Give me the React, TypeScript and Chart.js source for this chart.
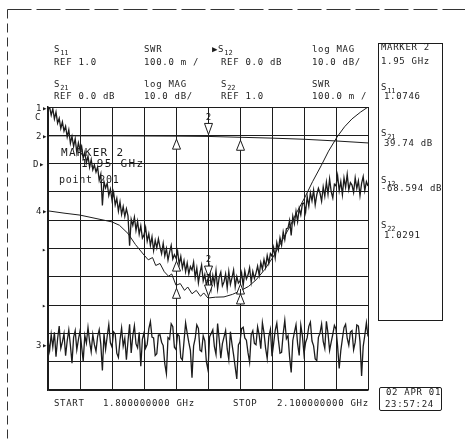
import React, { useEffect, useRef } from "react";
import { Chart, registerables } from "chart.js";
Chart.register(...registerables);

// Sweep definition (MHz)
const START_MHZ = 1800;
const STOP_MHZ = 2100;
const SWEEP_POINTS = 201;

// S21 log MAG (dB), one value per sweep point
const S21_DB = [
  8.9, 10.0, 7.1, 9.4, 5.8, 8.2, 4.3, 6.0, 2.4, 4.7,
  1.5, 3.2, -0.6, 1.9, -2.8, -0.4, -3.9, -1.2, -6.1, -2.7,
  -5.2, -3.8, -8.1, -6.0, -9.7, -7.4, -11.3, -8.6, -12.2, -10.5,
  -13.0, -11.2, -15.9, -13.7, -24.8, -16.4, -18.6, -16.9, -21.3, -19.0,
  -22.9, -20.1, -24.6, -22.3, -26.8, -23.5, -27.9, -25.2, -28.7, -26.0,
  -28.5, -39.0, -29.7, -31.8, -28.9, -33.6, -30.4, -34.9, -32.0, -36.3,
  -35.2, -32.6, -37.4, -34.8, -38.9, -35.9, -40.7, -37.1, -39.8, -36.6,
  -39.5, -41.8, -38.2, -42.6, -40.0, -44.1, -41.3, -38.9, -43.7, -42.2,
  -43.4, -40.9, -45.6, -42.8, -46.9, -44.3, -48.2, -45.1, -49.0, -46.4,
  -47.6, -44.8, -50.3, -46.9, -52.1, -48.5, -45.9, -51.4, -49.2, -53.0,
  -50.8, -46.7, -53.9, -49.5, -52.6, -47.8, -54.3, -50.1, -48.3, -53.2,
  -51.8, -49.0, -54.0, -48.2, -52.7, -50.3, -47.6, -53.5, -49.9, -52.2,
  -51.5, -48.6, -53.1, -47.9, -50.8, -49.4, -46.8, -51.9, -48.1, -50.6,
  -48.7, -46.2, -49.5, -45.0, -47.3, -43.9, -46.6, -42.5, -45.2, -41.8,
  -42.7, -39.6, -43.3, -37.9, -40.5, -36.2, -38.8, -34.1, -36.9, -33.0,
  -32.8, -30.1, -35.4, -28.6, -31.2, -26.9, -30.5, -25.8, -28.1, -24.2,
  -23.9, -27.2, -21.6, -25.0, -20.3, -23.1, -19.4, -24.6, -21.0, -18.7,
  -20.4, -23.3, -18.2, -21.5, -16.6, -20.8, -15.4, -19.9, -22.1, -17.3,
  -17.9, -14.2, -19.6, -16.3, -21.0, -15.1, -18.4, -13.8, -19.2, -16.7,
  -17.6, -20.2, -15.0, -18.8, -16.1, -21.3, -17.0, -14.6, -19.5, -16.4,
  -17.9,
];

// S12 log MAG (dB), one value per sweep point
const S12_DB = [
  -72.5, -76.1, -70.3, -74.8, -69.6, -78.2, -71.9, -67.4, -75.3, -73.0,
  -70.1, -77.9, -72.6, -68.8, -74.2, -80.5, -71.4, -69.0, -75.8, -72.2,
  -69.2, -74.6, -79.8, -70.7, -73.4, -67.9, -72.9, -76.5, -70.4, -74.0,
  -76.3, -71.1, -68.7, -73.8, -83.1, -70.2, -75.6, -71.0, -66.9, -73.3,
  -74.8, -69.5, -70.2, -77.0, -78.5, -72.4, -68.1, -74.5, -71.7, -79.3,
  -72.7, -66.8, -76.9, -70.9, -67.3, -73.7, -75.1, -69.6, -81.6, -72.0,
  -69.8, -75.2, -73.9, -68.4, -65.8, -71.3, -71.6, -77.8, -77.2, -70.6,
  -70.5, -73.1, -74.3, -80.8, -84.2, -71.5, -72.1, -66.6, -67.6, -74.9,
  -75.7, -70.3, -70.9, -78.6, -79.4, -72.8, -66.3, -69.9, -73.2, -76.0,
  -85.7, -74.4, -71.8, -67.0, -68.2, -75.9, -76.4, -70.8, -72.6, -80.1,
  -82.9, -71.2, -70.0, -68.7, -74.7, -77.4, -66.5, -72.1, -78.8, -73.6,
  -71.3, -69.0, -75.5, -79.2, -69.4, -73.8, -77.6, -81.9, -86.1, -74.1,
  -73.0, -68.3, -67.8, -71.6, -72.4, -76.8, -80.2, -70.5, -69.1, -73.5,
  -74.0, -67.7, -70.6, -75.4, -66.2, -69.8, -75.2, -78.9, -71.2, -68.6,
  -78.1, -73.7, -68.9, -66.4, -72.3, -77.0, -76.7, -70.1, -65.4, -71.9,
  -70.8, -78.4, -83.8, -72.5, -69.6, -66.9, -73.6, -77.8, -67.1, -70.9,
  -77.3, -73.2, -71.5, -67.5, -66.0, -72.7, -74.4, -79.0, -79.6, -71.4,
  -69.9, -66.7, -72.8, -75.3, -65.7, -70.0, -76.0, -73.1, -70.3, -67.2,
  -68.4, -74.5, -82.4, -76.1, -71.9, -68.0, -66.8, -71.7, -74.2, -69.5,
  -69.0, -75.8, -73.1, -67.0, -67.4, -72.9, -85.0, -74.6, -70.7, -66.3,
  -71.1,
];

// S11 SWR
const S11_FREQ = [1800, 1860, 1920, 1950, 1980, 2010, 2040, 2070, 2100];
const S11_SWR = [1.898, 1.898, 1.897, 1.896, 1.893, 1.89, 1.886, 1.88, 1.873];

// S22 SWR
const S22_FREQ = [
  1800, 1815, 1830, 1845, 1860, 1867, 1875, 1882, 1890, 1894, 1898, 1901, 1905,
  1909, 1913, 1916, 1920, 1924, 1928, 1931, 1935, 1939, 1943, 1946, 1950, 1957,
  1965, 1973, 1980, 1988, 1995, 2003, 2011, 2018, 2026, 2033, 2041, 2048, 2056,
  2063, 2071, 2078, 2085, 2093, 2100,
];
const S22_SWR = [
  1.633, 1.625, 1.618, 1.606, 1.594, 1.582, 1.553, 1.514, 1.477, 1.46, 1.468,
  1.44, 1.447, 1.418, 1.402, 1.41, 1.37, 1.376, 1.352, 1.364, 1.34, 1.352,
  1.331, 1.343, 1.325, 1.328, 1.329, 1.338, 1.35, 1.366, 1.389, 1.425, 1.47,
  1.518, 1.572, 1.626, 1.682, 1.736, 1.792, 1.844, 1.894, 1.93, 1.958, 1.982,
  2.0,
];

// Markers
const MARKER_FREQ = [1920, 1950, 1980];
const MARKER_LABEL = ["1", "2", "3"];
const ACTIVE_MARKER = "2";

const INK = "#1c1c1c";
const MONO = "'DejaVu Sans Mono', 'Liberation Mono', monospace";

function sweepFreqs(n: number) {
  const out: number[] = [];
  for (let i = 0; i < n; i++) out.push(START_MHZ + ((STOP_MHZ - START_MHZ) * i) / (n - 1));
  return out;
}

function valueAt(freqs: number[], vals: number[], f: number) {
  for (let i = 0; i < freqs.length - 1; i++) {
    if (f >= freqs[i] && f <= freqs[i + 1]) {
      const t = (f - freqs[i]) / (freqs[i + 1] - freqs[i] || 1);
      return vals[i] + t * (vals[i + 1] - vals[i]);
    }
  }
  return vals[vals.length - 1];
}

function pts(freqs: number[], vals: number[]) {
  return vals.map((v, i) => ({ x: freqs[i], y: v }));
}

const T = ({ x, y, size = 9, ls = 0.7, children }: any) => (
  <div
    style={{
      position: "absolute",
      left: x,
      top: y - size / 2,
      fontSize: size,
      lineHeight: `${size}px`,
      letterSpacing: ls,
      fontFamily: MONO,
      color: INK,
      whiteSpace: "pre",
    }}
  >
    {children}
  </div>
);

const Sub = ({ children }: any) => (
  <span style={{ fontSize: 7, position: "relative", top: 3, letterSpacing: 0 }}>{children}</span>
);

export default function App() {
  const ref = useRef<HTMLCanvasElement>(null);
  useEffect(() => {
    const sweep = sweepFreqs(SWEEP_POINTS);
    const traces = [
      { f: S11_FREQ, v: S11_SWR, axis: "ySwr" },
      { f: sweep, v: S21_DB, axis: "y" },
      { f: S22_FREQ, v: S22_SWR, axis: "ySwr" },
    ];
    const decor = {
      id: "decor",
      afterDatasetsDraw(chart: any) {
        const ctx = chart.ctx;
        const xs = chart.scales.x;
        ctx.save();
        ctx.strokeStyle = INK;
        ctx.fillStyle = "#fff";
        ctx.lineWidth = 1;
        traces.forEach((tr) => {
          const ys = chart.scales[tr.axis];
          MARKER_FREQ.forEach((mf, k) => {
            const px = Math.round(xs.getPixelForValue(mf)) + 0.5;
            const py = ys.getPixelForValue(valueAt(tr.f, tr.v, mf));
            const lab = MARKER_LABEL[k];
            ctx.beginPath();
            if (lab === ACTIVE_MARKER) {
              ctx.moveTo(px, py - 24);
              ctx.lineTo(px, py + 2);
              ctx.stroke();
              ctx.beginPath();
              ctx.moveTo(px - 4, py - 13);
              ctx.lineTo(px + 4, py - 13);
              ctx.lineTo(px, py - 2);
              ctx.closePath();
              ctx.fill();
              ctx.stroke();
              ctx.fillStyle = INK;
              ctx.font = `9px ${MONO}`;
              ctx.textAlign = "center";
              ctx.textBaseline = "middle";
              ctx.fillText(lab, px, py - 19);
              ctx.fillStyle = "#fff";
            } else {
              ctx.moveTo(px, py - 2);
              ctx.lineTo(px, py + 18);
              ctx.stroke();
              ctx.beginPath();
              ctx.moveTo(px, py + 3);
              ctx.lineTo(px + 4, py + 13);
              ctx.lineTo(px - 4, py + 13);
              ctx.closePath();
              ctx.fill();
              ctx.stroke();
            }
          });
        });
        ctx.restore();
      },
      afterDraw(chart: any) {
        const ctx = chart.ctx;
        ctx.save();
        ctx.strokeStyle = "#333";
        ctx.lineWidth = 1;
        ctx.setLineDash([24, 5]);
        ctx.beginPath();
        ctx.moveTo(7.5, 9.5);
        ctx.lineTo(465, 9.5);
        ctx.stroke();
        ctx.setLineDash([9, 5]);
        ctx.beginPath();
        ctx.moveTo(7.5, 9.5);
        ctx.lineTo(7.5, 441);
        ctx.stroke();
        ctx.restore();
      },
    };
    const line = (data: any[], axis: string, w = 1) => ({
      data,
      yAxisID: axis,
      borderColor: INK,
      borderWidth: w,
      pointRadius: 0,
      tension: 0,
      fill: false,
    });
    const chart = new Chart(ref.current!, {
      type: "line",
      data: {
        datasets: [
          line(pts(S11_FREQ, S11_SWR), "ySwr"),
          line(pts(sweep, S21_DB), "y", 1.3),
          line(pts(sweep, S12_DB), "y", 1.3),
          line(pts(S22_FREQ, S22_SWR), "ySwr"),
        ] as any,
      },
      options: {
        animation: false,
        responsive: false,
        devicePixelRatio: 1,
        layout: { padding: { left: 48, right: 97, top: 107, bottom: 51 } },
        plugins: { legend: { display: false }, tooltip: { enabled: false } },
        scales: {
          x: {
            type: "linear",
            min: START_MHZ,
            max: STOP_MHZ,
            ticks: { display: false, stepSize: 30 },
            grid: { color: INK, lineWidth: 1, drawTicks: false },
            border: { color: INK, width: 1.5 },
          },
          y: {
            type: "linear",
            min: -90,
            max: 10,
            ticks: { display: false, stepSize: 10 },
            grid: { color: INK, lineWidth: 1, drawTicks: false },
            border: { color: INK, width: 1.5 },
          },
          ySwr: {
            type: "linear",
            min: 1.0,
            max: 2.0,
            display: false,
          },
        } as any,
      },
      plugins: [decor],
    });
    return () => chart.destroy();
  }, []);

  return (
    <div style={{ position: "fixed", left: 0, top: 0, width: 465, height: 441, background: "#fff" }}>
      <canvas ref={ref} width={465} height={441} style={{ position: "absolute", left: 0, top: 0 }} />

      {/* header row 1 */}
      <T x={54} y={49}>S<Sub>11</Sub></T>
      <T x={54} y={62}>REF 1.0</T>
      <T x={144} y={49}>SWR</T>
      <T x={144} y={62}>100.0 m /</T>
      <T x={212} y={49}>▶S<Sub>12</Sub></T>
      <T x={221} y={62}>REF 0.0 dB</T>
      <T x={312} y={49}>log MAG</T>
      <T x={312} y={62}>10.0 dB/</T>

      {/* header row 2 */}
      <T x={54} y={84}>S<Sub>21</Sub></T>
      <T x={54} y={96}>REF 0.0 dB</T>
      <T x={144} y={84}>log MAG</T>
      <T x={144} y={96}>10.0 dB/</T>
      <T x={221} y={84}>S<Sub>22</Sub></T>
      <T x={221} y={96}>REF 1.0</T>
      <T x={312} y={84}>SWR</T>
      <T x={312} y={96}>100.0 m /</T>

      {/* reference position markers */}
      <T x={36} y={108}>1▸</T>
      <T x={35} y={117}>C</T>
      <T x={36} y={136}>2▸</T>
      <T x={33} y={164}>D▸</T>
      <T x={36} y={211}>4▸</T>
      <T x={42} y={250} size={7}>▸</T>
      <T x={42} y={306} size={7}>▸</T>
      <T x={36} y={345}>3▸</T>

      {/* in-plot marker annotation */}
      <T x={61} y={152} size={11} ls={1.3}>MARKER 2</T>
      <T x={81} y={163} size={11} ls={1.3}>1.95 GHz</T>
      <T x={59} y={180} size={10} ls={0.7}>point 201</T>

      {/* marker readout box */}
      <div style={{ position: "absolute", left: 378, top: 43, width: 63, height: 276, border: `1px solid ${INK}` }} />
      <T x={381} y={47}>MARKER 2</T>
      <T x={381} y={61}>1.95 GHz</T>
      <T x={381} y={87}>S<Sub>11</Sub></T>
      <T x={384} y={96}>1.0746</T>
      <T x={381} y={133}>S<Sub>21</Sub></T>
      <T x={384} y={143}>39.74 dB</T>
      <T x={381} y={180}>S<Sub>12</Sub></T>
      <T x={381} y={188}>-68.594 dB</T>
      <T x={381} y={225}>S<Sub>22</Sub></T>
      <T x={384} y={235}>1.0291</T>

      {/* bottom sweep annotation */}
      <T x={54} y={403}>START</T>
      <T x={103} y={403}>1.800000000 GHz</T>
      <T x={233} y={403}>STOP</T>
      <T x={277} y={403}>2.100000000 GHz</T>

      {/* date/time box */}
      <div style={{ position: "absolute", left: 379, top: 387, width: 61, height: 22, border: `1px solid ${INK}`, borderRadius: 2 }} />
      <T x={386} y={392}>02 APR 01</T>
      <T x={385} y={404}>23:57:24</T>
    </div>
  );
}
